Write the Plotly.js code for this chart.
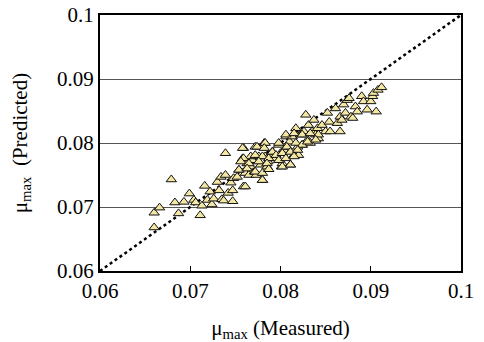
<!DOCTYPE html>
<html>
<head>
<meta charset="utf-8">
<script src="https://cdn.plot.ly/plotly-3.0.1.min.js"></script>
<style>html,body{margin:0;padding:0;background:#fff;}#chart{width:484px;height:342px;}</style>
</head>
<body>
<div id="chart"></div>
<script>
// Measured vs predicted mu_max values
const measured = [
0.0660,0.0660,0.0666,0.0679,0.0683,0.0687,0.0693,0.0699,0.0704,0.0706,
0.0711,0.0713,0.0716,0.0719,0.0722,0.0724,0.0726,0.0730,0.0732,0.0734,
0.0735,0.0737,0.0739,0.0739,0.0742,0.0745,0.0747,0.0747,0.0748,0.0752,
0.0754,0.0758,0.0759,0.0759,0.0761,0.0763,0.0765,0.0767,0.0769,0.0771,
0.0772,0.0773,0.0776,0.0778,0.0780,0.0782,0.0783,0.0785,0.0786,0.0788,
0.0791,0.0795,0.0798,0.0800,0.0801,0.0802,0.0804,0.0806,0.0807,0.0810,
0.0811,0.0813,0.0815,0.0817,0.0819,0.0820,0.0822,0.0824,0.0826,0.0828,
0.0830,0.0831,0.0833,0.0835,0.0837,0.0839,0.0841,0.0842,0.0846,0.0850,
0.0852,0.0854,0.0855,0.0861,0.0863,0.0866,0.0866,0.0868,0.0870,0.0872,
0.0874,0.0876,0.0878,0.0880,0.0883,0.0885,0.0890,0.0892,0.0896,0.0900,
0.0902,0.0903,0.0906,0.0908,0.0912,
0.0806,0.0815,0.0824,0.0833,0.0842,0.0783,0.0774,0.0782,0.0798,0.0791,
0.0807,0.0817,0.0824,0.0830,0.0839,0.0758,0.0767,0.0759,0.0772,0.0780,
0.0787,0.0795,0.0802,0.0811,0.0819,0.0756,0.0765,0.0776,0.0785,0.0798,
0.0806,0.0815,0.0754,0.0763,0.0772,0.0780,0.0787,0.0802,0.0811,0.0761,
0.0780
];
const predicted = [
0.0691,0.0668,0.0699,0.0743,0.0707,0.0690,0.0708,0.0721,0.0711,0.0707,
0.0687,0.0702,0.0733,0.0711,0.0724,0.0704,0.0713,0.0739,0.0726,0.0747,
0.0712,0.0710,0.0784,0.0750,0.0722,0.0738,0.0709,0.0726,0.0745,0.0747,
0.0758,0.0776,0.0792,0.0732,0.0753,0.0768,0.0750,0.0763,0.0773,0.0755,
0.0794,0.0750,0.0779,0.0766,0.0742,0.0800,0.0779,0.0763,0.0771,0.0781,
0.0786,0.0776,0.0797,0.0784,0.0763,0.0768,0.0789,0.0810,0.0794,0.0802,
0.0766,0.0810,0.0781,0.0823,0.0794,0.0781,0.0813,0.0797,0.0818,0.0844,
0.0805,0.0828,0.0800,0.0818,0.0836,0.0813,0.0823,0.0807,0.0828,0.0818,
0.0847,0.0833,0.0818,0.0854,0.0831,0.0818,0.0841,0.0836,0.0860,0.0847,
0.0867,0.0870,0.0841,0.0839,0.0857,0.0849,0.0873,0.0865,0.0852,0.0865,
0.0873,0.0878,0.0849,0.0883,0.0887,
0.0813,0.0815,0.0813,0.0815,0.0813,0.0800,0.0794,0.0792,0.0800,0.0786,
0.0794,0.0800,0.0797,0.0802,0.0805,0.0792,0.0779,0.0776,0.0781,0.0779,
0.0776,0.0781,0.0784,0.0786,0.0789,0.0771,0.0768,0.0771,0.0768,0.0773,
0.0776,0.0779,0.0758,0.0760,0.0755,0.0753,0.0759,0.0763,0.0766,0.0732,
0.0742
];
const axisRange = [0.06, 0.1];
const tickValues = [0.06, 0.07, 0.08, 0.09, 0.1];
const tickLabels = ['0.06', '0.07', '0.08', '0.09', '0.1'];
const xTitle = '\u03bc<sub>max</sub> (Measured)';
const yTitle = '\u03bc<sub>max</sub>\u00a0\u00a0(Predicted)';

const font = {family: 'Liberation Serif', size: 21, color: '#000'};
const titleFont = {family: 'Liberation Serif', size: 21, color: '#000'};

const traces = [
  {
    x: axisRange, y: axisRange, mode: 'lines', type: 'scatter',
    line: {color: '#000', width: 2.5, dash: 'dot'}, hoverinfo: 'skip', showlegend: false
  },
  {
    x: measured, y: predicted, mode: 'markers', type: 'scatter',
    marker: {symbol: 'triangle-up', size: 9, color: '#f4e7a4', line: {color: '#111', width: 1}},
    showlegend: false
  }
];

const layout = {
  width: 484, height: 342,
  margin: {l: 100, r: 23, t: 15, b: 71},
  paper_bgcolor: '#fff', plot_bgcolor: '#fff',
  font: font,
  showlegend: false,
  xaxis: {
    range: axisRange, tickvals: tickValues, ticktext: tickLabels,
    showgrid: false, zeroline: false,
    showline: true, linecolor: '#000', linewidth: 2, mirror: true,
    ticks: 'inside', ticklen: 5, tickcolor: '#000', tickwidth: 1,
    tickfont: font,
    title: {text: xTitle, font: titleFont, standoff: 20}
  },
  yaxis: {
    range: axisRange, tickvals: tickValues, ticktext: tickLabels,
    showgrid: true, gridcolor: '#555', gridwidth: 1, zeroline: false,
    showline: true, linecolor: '#000', linewidth: 2, mirror: true,
    ticks: '', tickfont: font,
    title: {text: yTitle, font: titleFont, standoff: 24}
  }
};

Plotly.newPlot('chart', traces, layout, {staticPlot: true, displayModeBar: false});
</script>
</body>
</html>
